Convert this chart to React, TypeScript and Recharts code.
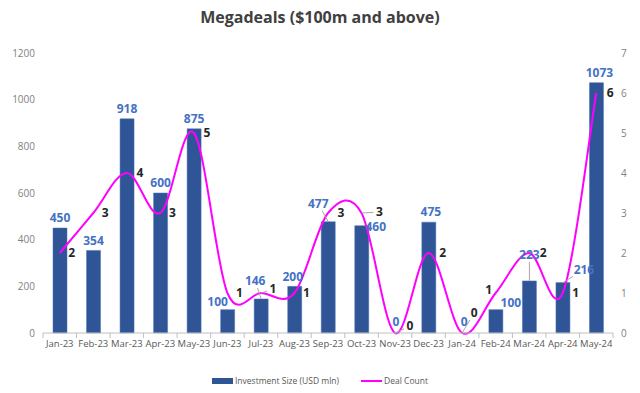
import { ComposedChart, Bar, Line, XAxis, YAxis, LabelList } from "recharts";

const months = [
  "Jan-23", "Feb-23", "Mar-23", "Apr-23", "May-23", "Jun-23", "Jul-23", "Aug-23", "Sep-23",
  "Oct-23", "Nov-23", "Dec-23", "Jan-24", "Feb-24", "Mar-24", "Apr-24", "May-24",
];
const investment = [450, 354, 918, 600, 875, 100, 146, 200, 477, 460, 0, 475, 0, 100, 223, 216, 1073];
const dealCount = [2, 3, 4, 3, 5, 1, 1, 1, 3, 3, 0, 2, 0, 1, 2, 1, 6];
const leftTicks = [0, 200, 400, 600, 800, 1000, 1200];
const rightTicks = [0, 1, 2, 3, 4, 5, 6, 7];

const BAR = "#2F5597";
const LINE = "#FF00FF";
const BLUE_TEXT = "#4472C4";
const DARK_TEXT = "#262626";
const AXIS_TEXT = "#7F7F7F";
const LEADER = "#A6A6A6";
const FONT = "'Open Sans', sans-serif";

// label nudges [dx, dy, leader line?] (excel moved a few labels by hand)
const barLabelShift: [number, number, boolean][] = [
  [0, 0, false], [0, 0, false], [0, 0, false], [0, 0, false], [0, 0, false], [-10, 2, false],
  [-6, -8, true], [-2, 0, false], [-10, -8, true], [14, 11, false], [1, -1, false], [2, 0, false],
  [2, -1, false], [15, 3, false], [0, -16, true], [21, -3, true], [3, 0, false],
];
const countLabelShift: [number, number, boolean][] = [
  [12, 0, false], [12, 0, false], [13, 0, false], [12, 0, false], [13, 0, false], [12, 0, false],
  [12, -4, true], [12, 0, false], [13, 0, false], [18, -1, true], [15, -7, true], [14, 0, false],
  [12, -20, true], [-7, -3, false], [14, 0, false], [13, 0, false], [14, 0, false],
];

const data = months.map((m, i) => ({ month: m, investment: investment[i], deals: dealCount[i] }));

const PLOT_LEFT = 43;
const BAND = 570 / 17;

// zero height bars are skipped by LabelList, so work the month out from x
const monthIndex = (cx: number) =>
  Math.max(0, Math.min(months.length - 1, Math.round((cx - PLOT_LEFT - BAND / 2) / BAND)));

// excel style smoothed line (catmull-rom, tension 0)
function excelSmooth(context: any) {
  let pts: number[][] = [];
  return {
    areaStart() {},
    areaEnd() {},
    lineStart() {
      pts = [];
    },
    point(x: number, y: number) {
      pts.push([+x, +y]);
    },
    lineEnd() {
      if (!pts.length) return;
      context.moveTo(pts[0][0], pts[0][1]);
      for (let i = 0; i < pts.length - 1; i++) {
        const p0 = pts[Math.max(i - 1, 0)];
        const p1 = pts[i];
        const p2 = pts[i + 1];
        const p3 = pts[Math.min(i + 2, pts.length - 1)];
        context.bezierCurveTo(
          p1[0] + (p2[0] - p0[0]) / 6,
          p1[1] + (p2[1] - p0[1]) / 6,
          p2[0] - (p3[0] - p1[0]) / 6,
          p2[1] - (p3[1] - p1[1]) / 6,
          p2[0],
          p2[1]
        );
      }
    },
  };
}

// line from a data point to the edge of its moved label
function leaderLine(ax: number, ay: number, lx: number, ly: number, halfW: number) {
  const dx = ax - lx;
  const dy = ay - ly;
  const t = Math.min(dx ? halfW / Math.abs(dx) : Infinity, dy ? 7 / Math.abs(dy) : Infinity);
  if (t >= 1) return null;
  return <line x1={lx + dx * t} y1={ly + dy * t} x2={ax} y2={ay} stroke={LEADER} strokeWidth={1} />;
}

function MonthTick(props: any) {
  const { x, y, payload, index } = props;
  const top = y - 8;
  return (
    <g>
      <line x1={x - BAND / 2} x2={x - BAND / 2} y1={top} y2={top + 5} stroke="#BFBFBF" />
      {index === months.length - 1 && (
        <line x1={x + BAND / 2} x2={x + BAND / 2} y1={top} y2={top + 5} stroke="#BFBFBF" />
      )}
      <text x={x} y={y + 6} textAnchor="middle" fontSize={9.5} fill="#595959" fontFamily={FONT}>
        {payload.value}
      </text>
    </g>
  );
}

function BarValueLabel(props: any) {
  const { x, y, width, value } = props;
  const cx = x + width / 2;
  const [dx, dy, leader] = barLabelShift[monthIndex(cx)];
  const lx = cx + dx;
  const ly = y - 10 + dy;
  return (
    <g>
      {leader && leaderLine(cx, y, lx, ly, 11)}
      <text x={lx} y={ly} dy="0.35em" textAnchor="middle" fontSize={12} fontWeight={700} fill={BLUE_TEXT} fontFamily={FONT}>
        {value}
      </text>
    </g>
  );
}

// zero bars are not drawn, so their "0" labels hang off the line points (which sit on the baseline too)
function ZeroBarLabel(props: any) {
  const { x, y, value } = props;
  if (value !== 0) return null;
  const [dx, dy] = barLabelShift[monthIndex(x)];
  return (
    <text x={x + dx} y={y - 10 + dy} dy="0.35em" textAnchor="middle" fontSize={12} fontWeight={700} fill={BLUE_TEXT} fontFamily={FONT}>
      {value}
    </text>
  );
}

function CountLabel(props: any) {
  const { x, y, value } = props;
  const [dx, dy, leader] = countLabelShift[monthIndex(x)];
  const lx = x + dx;
  const ly = y + dy;
  return (
    <g>
      {leader && leaderLine(x, y, lx, ly, 6)}
      <text x={lx} y={ly} dy="0.35em" textAnchor="middle" fontSize={12} fontWeight={700} fill={DARK_TEXT} fontFamily={FONT}>
        {value}
      </text>
    </g>
  );
}

export default function App() {
  return (
    <div style={{ position: "absolute", left: 0, top: 0, width: 640, height: 393, background: "#fff" }}>
      <div
        style={{
          position: "absolute",
          top: 6,
          width: 640,
          textAlign: "center",
          fontFamily: FONT,
          fontWeight: 700,
          fontSize: 16,
          color: "#404040",
        }}
      >
        Megadeals ($100m and above)
      </div>
      <ComposedChart
        width={640}
        height={393}
        data={data}
        margin={{ top: 53, right: 0, left: 0, bottom: 40 }}
      >
        <XAxis
          dataKey="month"
          interval={0}
          axisLine={{ stroke: "#BFBFBF" }}
          tickLine={false}
          tick={<MonthTick />}
          height={20}
        />
        <YAxis
          yAxisId="left"
          domain={[0, 1200]}
          ticks={leftTicks}
          axisLine={false}
          tickLine={false}
          width={PLOT_LEFT}
          tick={{ fontSize: 10, fill: AXIS_TEXT, fontFamily: FONT }}
        />
        <YAxis
          yAxisId="right"
          orientation="right"
          domain={[0, 7]}
          ticks={rightTicks}
          axisLine={false}
          tickLine={false}
          width={27}
          tick={{ fontSize: 10, fill: AXIS_TEXT, fontFamily: FONT }}
        />
        <Bar
          yAxisId="left"
          dataKey="investment"
          name="Investment Size (USD mln)"
          fill={BAR}
          stroke="#4A72B8"
          strokeWidth={0.5}
          barSize={14}
          isAnimationActive={false}
        >
          <LabelList dataKey="investment" content={<BarValueLabel />} />
        </Bar>
        <Line
          yAxisId="right"
          dataKey="deals"
          name="Deal Count"
          type={excelSmooth as any}
          stroke={LINE}
          strokeWidth={2}
          dot={false}
          activeDot={false}
          isAnimationActive={false}
        >
          <LabelList dataKey="investment" content={<ZeroBarLabel />} />
          <LabelList dataKey="deals" content={<CountLabel />} />
        </Line>
      </ComposedChart>
      <div
        style={{
          position: "absolute",
          top: 375,
          width: 640,
          display: "flex",
          justifyContent: "center",
          alignItems: "center",
          fontFamily: FONT,
          fontSize: 8.5,
          color: "#595959",
          gap: 22,
        }}
      >
        <span style={{ display: "flex", alignItems: "center" }}>
          <span style={{ width: 21, height: 6, background: BAR, marginRight: 2 }} />
          Investment Size (USD mln)
        </span>
        <span style={{ display: "flex", alignItems: "center" }}>
          <span style={{ width: 21, height: 2, background: LINE, marginRight: 2 }} />
          Deal Count
        </span>
      </div>
    </div>
  );
}
